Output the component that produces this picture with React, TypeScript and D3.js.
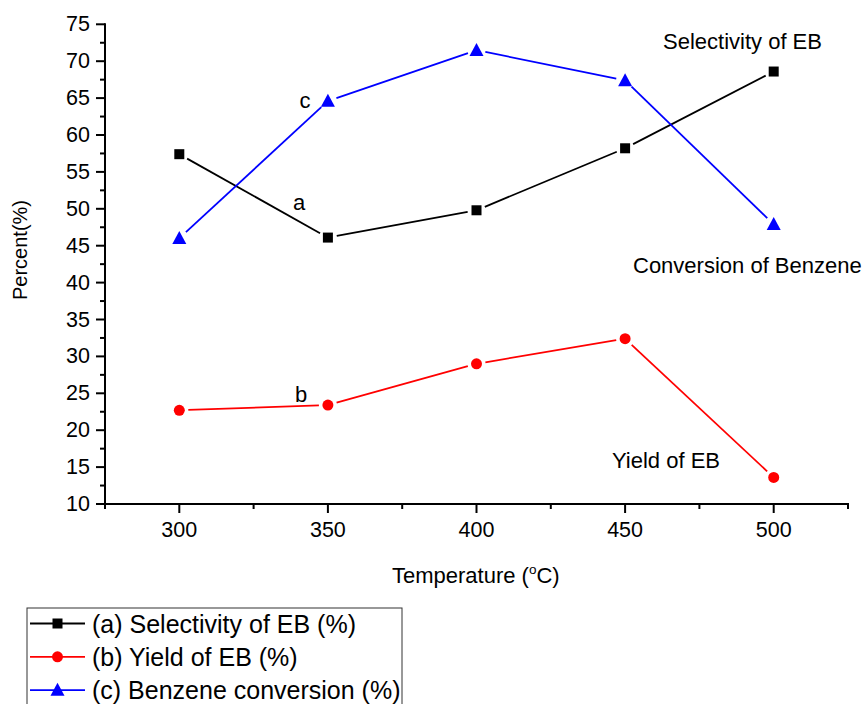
import React from "react";
import * as d3 from "d3";

const temperatures = [300, 350, 400, 450, 500];
const selectivity = [57.4, 46.1, 49.8, 58.2, 68.6];
const yieldEB = [22.7, 23.4, 29.0, 32.4, 13.6];
const conversion = [46.0, 64.6, 71.5, 67.4, 47.9];
const yTicks = [10, 15, 20, 25, 30, 35, 40, 45, 50, 55, 60, 65, 70, 75];
const yMinorTicks = [12.5, 17.5, 22.5, 27.5, 32.5, 37.5, 42.5, 47.5, 52.5, 57.5, 62.5, 67.5, 72.5];
const xTicks = [300, 350, 400, 450, 500];
const xMinorTicks = [275, 325, 375, 425, 475, 525];
const legendLabels = ["(a) Selectivity of EB (%)", "(b) Yield of EB (%)", "(c) Benzene conversion (%)"];

const FONT = "'Liberation Sans', Arial, sans-serif";

type Series = { values: number[]; color: string; shape: "square" | "circle" | "triangle" };
const series: Series[] = [
  { values: selectivity, color: "#000000", shape: "square" },
  { values: yieldEB, color: "#ff0000", shape: "circle" },
  { values: conversion, color: "#0000ff", shape: "triangle" },
];

function Marker({ shape, x, y, color }: { shape: string; x: number; y: number; color: string }) {
  if (shape === "square") return <rect x={x - 5} y={y - 5} width={10} height={10} fill={color} />;
  if (shape === "circle") return <circle cx={x} cy={y} r={5.5} fill={color} />;
  const h = 12.5;
  const w = 14;
  return <path d={`M${x},${y - h / 2 - 1}L${x + w / 2},${y + h / 2 - 0.5}L${x - w / 2},${y + h / 2 - 0.5}Z`} fill={color} />;
}

export default function App() {
  const x = d3.scaleLinear().domain([275, 525]).range([105, 848]);
  const y = d3.scaleLinear().domain([10, 75]).range([504, 24.3]);
  const gap = 9;

  return (
    <svg width={864} height={704} style={{ position: "absolute", left: 0, top: 0, background: "#fff" }} fontFamily={FONT}>
      <rect width={864} height={704} fill="#fff" />
      {/* series */}
      {series.map((s, si) => {
        const pts = temperatures.map((t, i) => [x(t), y(s.values[i])] as [number, number]);
        const segs = [] as JSX.Element[];
        for (let i = 0; i < pts.length - 1; i++) {
          const [x1, y1] = pts[i];
          const [x2, y2] = pts[i + 1];
          const len = Math.hypot(x2 - x1, y2 - y1);
          const ux = (x2 - x1) / len;
          const uy = (y2 - y1) / len;
          segs.push(
            <line key={i} x1={x1 + ux * gap} y1={y1 + uy * gap} x2={x2 - ux * gap} y2={y2 - uy * gap} stroke={s.color} strokeWidth={1.8} />
          );
        }
        return (
          <g key={si}>
            {segs}
            {pts.map(([px, py], i) => (
              <Marker key={i} shape={s.shape} x={px} y={py} color={s.color} />
            ))}
          </g>
        );
      })}

      {/* axes */}
      <g stroke="#000" strokeWidth={2}>
        <line x1={105} y1={y(75) - 1} x2={105} y2={505} />
        <line x1={104} y1={504} x2={x(525) + 1} y2={504} />
        {yTicks.map((t) => (
          <line key={"ym" + t} x1={96} x2={105} y1={y(t)} y2={y(t)} />
        ))}
        {yMinorTicks.map((t) => (
          <line key={"yn" + t} x1={100} x2={105} y1={y(t)} y2={y(t)} />
        ))}
        {xTicks.map((t) => (
          <line key={"xm" + t} x1={x(t)} x2={x(t)} y1={504} y2={513} />
        ))}
        {xMinorTicks.map((t) => (
          <line key={"xn" + t} x1={x(t)} x2={x(t)} y1={504} y2={509} />
        ))}
      </g>
      <g fontSize={21.5} fill="#000">
        {yTicks.map((t) => (
          <text key={"yl" + t} x={90} y={y(t)} textAnchor="end" dominantBaseline="central">
            {t}
          </text>
        ))}
        {xTicks.map((t) => (
          <text key={"xl" + t} x={x(t)} y={537} textAnchor="middle">
            {t}
          </text>
        ))}
      </g>

      {/* axis titles */}
      <text x={392} y={583} fontSize={22}>
        Temperature (<tspan fontSize={13.5} dy={-9}>o</tspan>
        <tspan dy={9}>C)</tspan>
      </text>
      <text transform="translate(27,250) rotate(-90)" textAnchor="middle" fontSize={20}>
        Percent(%)
      </text>

      {/* annotations */}
      <g fontSize={22}>
        <text x={663} y={49}>Selectivity of EB</text>
        <text x={633} y={273}>Conversion of Benzene</text>
        <text x={612} y={468}>Yield of EB</text>
        <text x={305} y={108} textAnchor="middle">c</text>
        <text x={299} y={210} textAnchor="middle">a</text>
        <text x={301} y={402} textAnchor="middle">b</text>
      </g>

      {/* legend */}
      <rect x={27} y={608} width={375} height={110} fill="none" stroke="#333" strokeWidth={1} />
      {series.map((s, i) => {
        const cy = 623.5 + i * 33.3;
        return (
          <g key={"lg" + i}>
            <line x1={30} x2={85} y1={cy} y2={cy} stroke={s.color} strokeWidth={1.8} />
            <Marker shape={s.shape} x={57.5} y={cy} color={s.color} />
            <text x={92} y={cy} dominantBaseline="central" fontSize={25}>
              {legendLabels[i]}
            </text>
          </g>
        );
      })}
    </svg>
  );
}
